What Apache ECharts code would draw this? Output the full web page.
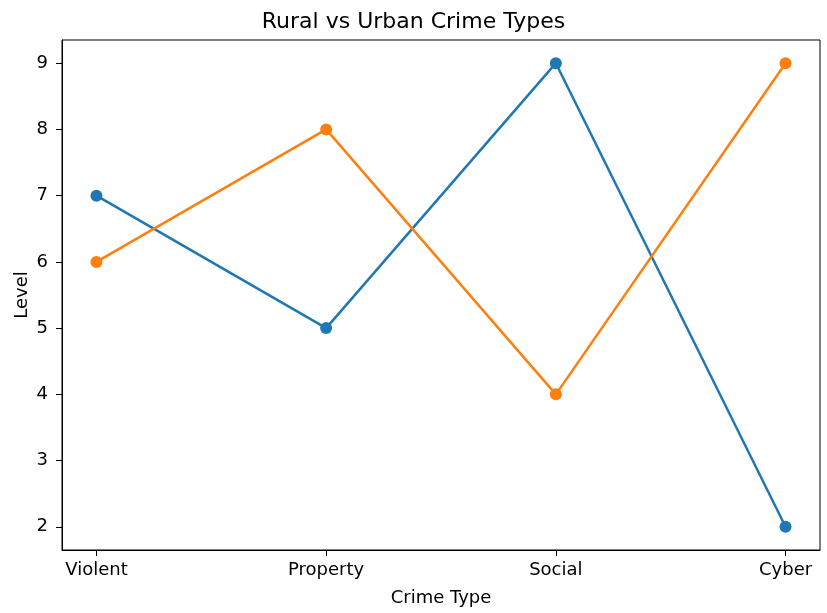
<!DOCTYPE html>
<html><head><meta charset="utf-8">
<script src="https://cdn.jsdelivr.net/npm/echarts@6/dist/echarts.min.js"></script>
<style>html,body{margin:0;padding:0;background:#fff}#c{width:827px;height:613px}</style>
</head><body><div id="c"></div>
<script>
const categories = ['Violent', 'Property', 'Social', 'Cyber'];
const ruralValues = [7, 5, 9, 2];
const urbanValues = [6, 8, 4, 9];
const yTicks = [2, 3, 4, 5, 6, 7, 8, 9];
const xTicks = [0, 1, 2, 3];

const font = 'DejaVu Sans';
const chart = echarts.init(document.getElementById('c'));
chart.setOption({
  animation: false,
  backgroundColor: '#fff',
  title: {
    text: 'Rural vs Urban Crime Types', left: 'center', top: 6,
    textStyle: { fontFamily: font, fontSize: 22, fontWeight: 'normal', color: '#000' }
  },
  grid: { left: 62, right: 7, top: 40, bottom: 63, show: true, borderColor: '#000', borderWidth: 1 },
  xAxis: {
    type: 'value', min: -0.15, max: 3.15,
    name: 'Crime Type', nameLocation: 'middle', nameGap: 39,
    nameTextStyle: { fontFamily: font, fontSize: 18, color: '#000' },
    axisLine: { show: true, onZero: false, lineStyle: { color: '#000', width: 1 } },
    axisTick: { show: true, customValues: xTicks, length: 6, lineStyle: { color: '#000' } },
    axisLabel: { customValues: xTicks, margin: 11, fontFamily: font, fontSize: 18, color: '#000',
      formatter: v => categories[Math.round(v)] },
    splitLine: { show: false }
  },
  yAxis: {
    type: 'value', min: 1.65, max: 9.35,
    name: 'Level', nameLocation: 'middle', nameGap: 31, nameMoveOverlap: false,
    nameTextStyle: { fontFamily: font, fontSize: 18, color: '#000' },
    axisLine: { show: true, onZero: false, lineStyle: { color: '#000', width: 1 } },
    axisTick: { show: true, customValues: yTicks, length: 6, lineStyle: { color: '#000' } },
    axisLabel: { customValues: yTicks, margin: 14, fontFamily: font, fontSize: 18, color: '#000' },
    splitLine: { show: false }
  },
  series: [
    { name: 'Rural', type: 'line', data: ruralValues.map((v, i) => [i, v]),
      color: '#1f77b4', symbol: 'circle', symbolSize: 12, lineStyle: { width: 2.5 } },
    { name: 'Urban', type: 'line', data: urbanValues.map((v, i) => [i, v]),
      color: '#ff7f0e', symbol: 'circle', symbolSize: 12, lineStyle: { width: 2.5 } }
  ]
});
</script></body></html>
